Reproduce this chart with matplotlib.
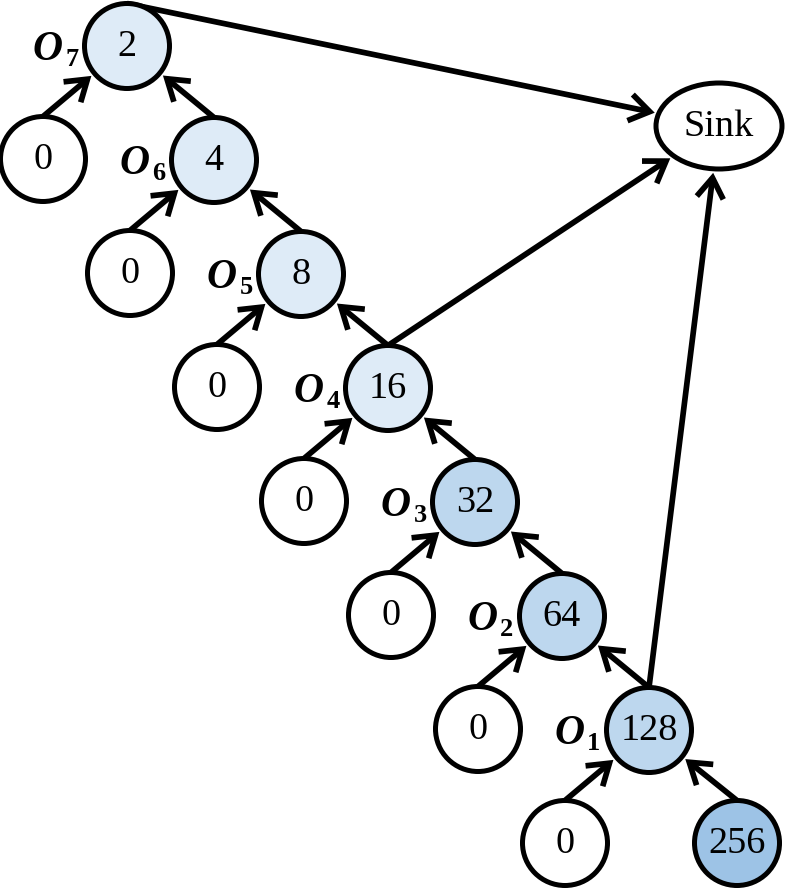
import numpy as np
import matplotlib
matplotlib.use("Agg")
import matplotlib.pyplot as plt
from matplotlib.patches import Circle, Ellipse, FancyArrowPatch

# chain of aggregation nodes, top (O7) to bottom (O1)
chain_values = [2, 4, 8, 16, 32, 64, 128]
chain_labels = ["7", "6", "5", "4", "3", "2", "1"]
chain_colors = ["#DEEBF7", "#DEEBF7", "#DEEBF7", "#DEEBF7",
                "#BDD7EE", "#BDD7EE", "#BDD7EE"]
leaf_value = 0
source_value = 256
source_color = "#9DC3E6"
sink_text = "Sink"
# chain nodes that send straight to the sink
to_sink = [0, 3, 6]

W, H = 788, 891
R = 42.5       # circle radius (px, centre of stroke)
LW = 3.6       # stroke width, pt
ALW = 4.1      # arrow stroke width, pt
FONT = "Liberation Serif"
NUM_SIZE = 27.5

# layout in pixel space
x0, y0 = 127, 46
step_x, step_y = 87, 114
left_dx, child_dy = -84, 113
right_dx = 88
sink_xy = (719, 126)
sink_w, sink_h = 126, 86

fig = plt.figure(figsize=(W / 100, H / 100), dpi=100)
ax = fig.add_axes([0, 0, 1, 1])
ax.set_xlim(0, W)
ax.set_ylim(H, 0)
ax.axis("off")


def node(xy, text, color="white"):
    ax.add_patch(Circle(xy, R, facecolor=color, edgecolor="black", lw=LW, zorder=3))
    ax.text(xy[0], xy[1] + 1, str(text), ha="center", va="center",
            fontsize=NUM_SIZE, family=FONT, zorder=4)


def arrow(start, end):
    a = FancyArrowPatch(start, end, arrowstyle="->,head_length=0.72,head_width=0.48",
                        mutation_scale=20, lw=ALW, color="black",
                        shrinkA=0, shrinkB=0, zorder=2, joinstyle="miter",
                        capstyle="butt")
    ax.add_patch(a)


def edge_to_circle(child, parent, r_end=R + 4):
    s = (child[0], child[1] - R)
    d = np.array(parent) - np.array(s)
    dist = np.hypot(*d)
    e = np.array(s) + d * (1 - r_end / dist)
    arrow(s, tuple(e))


centers = [(x0 + i * step_x, y0 + i * step_y) for i in range(len(chain_values))]

for i, (c, v, lab, col) in enumerate(zip(centers, chain_values, chain_labels, chain_colors)):
    node(c, v, col)
    ax.text(c[0] - 79, c[1] + 13.5, "O", ha="center", va="baseline",
            fontsize=30, family=FONT, weight="bold", style="italic", zorder=4)
    ax.text(c[0] - 55, c[1] + 20, lab, ha="center", va="baseline",
            fontsize=19, family=FONT, weight="bold", zorder=4)

    left = (c[0] + left_dx, c[1] + child_dy)
    node(left, leaf_value)
    edge_to_circle(left, c)

    if i + 1 < len(centers):
        edge_to_circle(centers[i + 1], c)
    else:
        src = (c[0] + right_dx, c[1] + child_dy)
        node(src, source_value, source_color)
        edge_to_circle(src, c)

# sink
ax.add_patch(Ellipse(sink_xy, sink_w, sink_h, facecolor="white",
                     edgecolor="black", lw=LW, zorder=3))
ax.text(sink_xy[0], sink_xy[1] + 1, sink_text, ha="center", va="center",
        fontsize=NUM_SIZE, family=FONT, zorder=4)

a_, b_ = sink_w / 2 + 4, sink_h / 2 + 4
for i in to_sink:
    c = centers[i]
    s = np.array([c[0], c[1] - R])
    d = np.array(sink_xy) - s
    # point on the (enlarged) ellipse facing the start point
    t = 1 / np.hypot(d[0] / a_, d[1] / b_)
    e = np.array(sink_xy) - d * t
    arrow(tuple(s), tuple(e))

fig.savefig("out.png", dpi=100)
